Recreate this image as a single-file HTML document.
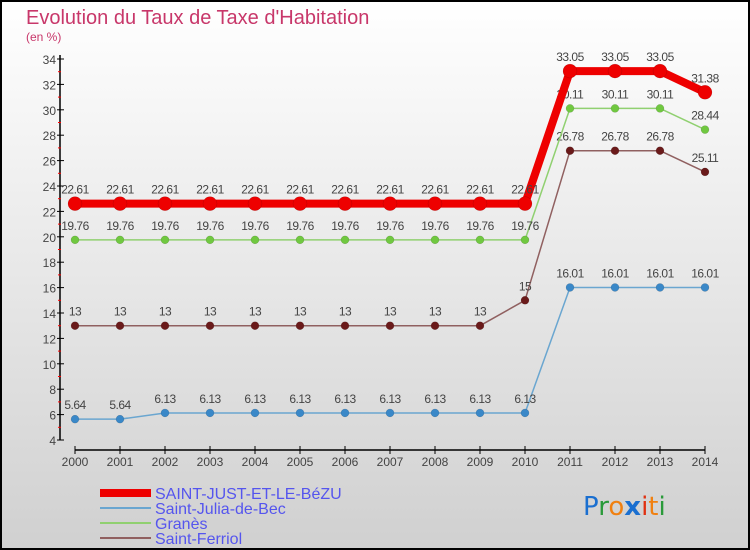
<!DOCTYPE html>
<html><head><meta charset="utf-8"><style>
body{margin:0;}
svg{display:block;font-family:"Liberation Sans",sans-serif;}
</style></head><body>
<svg id="c" width="750" height="550" xmlns="http://www.w3.org/2000/svg">
<defs><linearGradient id="bg" x1="0" y1="0" x2="0" y2="1"><stop offset="0" stop-color="#ffffff"/><stop offset="1" stop-color="#d0d0d0"/></linearGradient></defs>
<rect x="1" y="1" width="748" height="548" fill="url(#bg)" stroke="#000" stroke-width="2"/>
<text x="26" y="24" font-size="20" fill="#c8376a">Evolution du Taux de Taxe d'Habitation</text>
<text x="26" y="41" font-size="12" fill="#c8376a">(en %)</text>
<g id="axes"></g><g id="series"></g>
<g>
<line x1="100" y1="493" x2="151" y2="493" stroke="#e00" stroke-width="8"/>
<text x="155" y="499" font-size="16" fill="#5555ee">SAINT-JUST-ET-LE-BéZU</text>
<line x1="100" y1="508" x2="151" y2="508" stroke="#6aa6d0" stroke-width="2"/>
<text x="155" y="514" font-size="16" fill="#5555ee">Saint-Julia-de-Bec</text>
<line x1="100" y1="523" x2="151" y2="523" stroke="#90d070" stroke-width="2"/>
<text x="155" y="529" font-size="16" fill="#5555ee">Granès</text>
<line x1="100" y1="538" x2="151" y2="538" stroke="#906060" stroke-width="2"/>
<text x="155" y="544" font-size="16" fill="#5555ee">Saint-Ferriol</text>
</g>
<g font-size="26" font-family="'DejaVu Sans',sans-serif">
<text x="583" y="515"><tspan fill="#1a6fd0">P</tspan><tspan fill="#2a9a3a">r</tspan><tspan fill="#f08010">o</tspan><tspan fill="#1a6fd0" font-weight="bold">x</tspan><tspan fill="#e03010">i</tspan><tspan fill="#f08010">t</tspan><tspan fill="#2a9a3a">i</tspan></text>
</g>
</svg>
<script>
const years=[2000,2001,2002,2003,2004,2005,2006,2007,2008,2009,2010,2011,2012,2013,2014];
const saintJust=[22.61,22.61,22.61,22.61,22.61,22.61,22.61,22.61,22.61,22.61,22.61,33.05,33.05,33.05,31.38];
const saintJulia=[5.64,5.64,6.13,6.13,6.13,6.13,6.13,6.13,6.13,6.13,6.13,16.01,16.01,16.01,16.01];
const granes=[19.76,19.76,19.76,19.76,19.76,19.76,19.76,19.76,19.76,19.76,19.76,30.11,30.11,30.11,28.44];
const saintFerriol=[13,13,13,13,13,13,13,13,13,13,15,26.78,26.78,26.78,25.11];
const yTicks=[4,6,8,10,12,14,16,18,20,22,24,26,28,30,32,34];
const NS="http://www.w3.org/2000/svg";
const xS=i=>75+i*45;
const yS=v=>440-(v-4)*12.7;
function mk(t,a,p){const e=document.createElementNS(NS,t);for(const k in a)e.setAttribute(k,a[k]);p.appendChild(e);return e;}
const ax=document.getElementById('axes');
let yl=mk('line',{x1:60,y1:55,x2:60,y2:440,stroke:'#000','stroke-width':1.5},ax);


let xl=mk('line',{x1:75,y1:450,x2:705,y2:450,stroke:'#000','stroke-width':1.5},ax);


yTicks.forEach((v,i)=>{
  mk('line',{x1:57,y1:yS(v),x2:64,y2:yS(v),stroke:'#000'},ax);
  if(i<yTicks.length-1)mk('line',{x1:58,y1:yS(v+1),x2:61,y2:yS(v+1),stroke:'#f00'},ax);
  const t=mk('text',{x:56,y:yS(v)+5,'font-size':12,fill:'#444','text-anchor':'end'},ax);
  t.textContent=v;
  
  
});
years.forEach((y,i)=>{
  mk('line',{x1:xS(i),y1:446,x2:xS(i),y2:454,stroke:'#000'},ax);
  const t=mk('text',{x:xS(i),y:466,'font-size':12,fill:'#444','text-anchor':'middle'},ax);
  t.textContent=y;
  
  
});
const sg=document.getElementById('series');
function draw(data,color,w,r,dot,name){
  const g=mk('g',{},sg);
  
  
  mk('polyline',{points:data.map((v,i)=>xS(i)+','+yS(v)).join(' '),fill:'none',stroke:color,'stroke-width':w,'stroke-linejoin':'round'},g);
  data.forEach((v,i)=>{
    const c=mk('circle',{cx:xS(i),cy:yS(v),r:r,fill:dot,stroke:'rgba(0,0,0,0.2)','stroke-width':0.5},g);
    
    
    const t=mk('text',{x:xS(i),y:yS(v)-10,'font-size':12,fill:'#444','text-anchor':'middle','letter-spacing':'-0.5'},g);
    t.textContent=String(v).replace(/\.?0+$/,'');
    
    
  });
}
draw(saintJulia,'#6aa6d0',1.5,4,'#3a88c8','saint-julia');
draw(saintFerriol,'#906060',1.5,4,'#6a1a1a','saint-ferriol');
draw(granes,'#90d070',1.5,4,'#70c840','granes');
draw(saintJust,'#ee0000',8,7,'#ee0000','saint-just');
</script>
</body></html>
